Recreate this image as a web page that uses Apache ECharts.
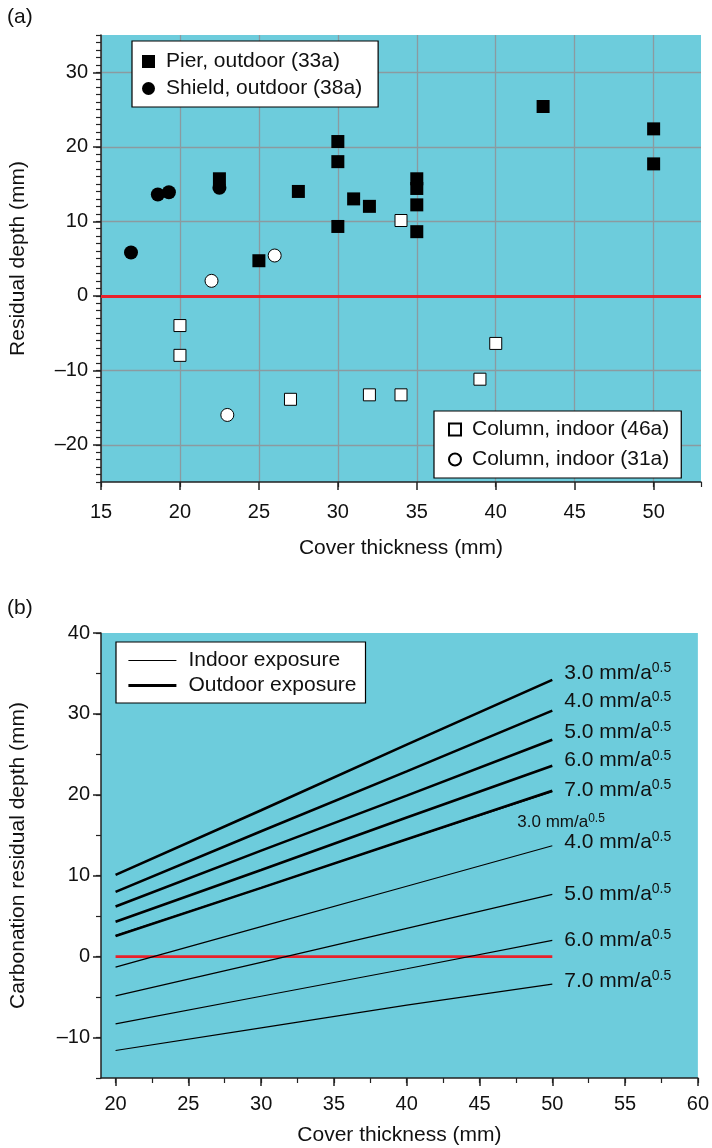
<!DOCTYPE html>
<html>
<head>
<meta charset="utf-8">
<script src="https://cdn.jsdelivr.net/npm/echarts@6/dist/echarts.min.js"></script>
<style>
  html, body { margin: 0; padding: 0; background: #fff; }
  #chart { width: 712px; height: 1148px; }
</style>
</head>
<body>
<div id="chart"></div>
<script>
// (a) 実測の残りかぶり
var pierCover = [22.5, 25, 27.5, 30, 30, 30, 31, 32, 35, 35, 35, 35, 43, 50, 50]
var pierDepth = [15.7, 4.7, 14.0, 20.7, 18.0, 9.3, 13.0, 12.0, 15.7, 14.4, 12.2, 8.6, 25.4, 22.4, 17.7]
var shieldCover = [16.9, 18.6, 19.3, 22.5]
var shieldDepth = [5.8, 13.6, 13.9, 14.5]
var col46Cover = [20, 20, 27, 32, 34, 34, 39, 40]
var col46Depth = [-4.0, -8.0, -13.9, -13.3, -13.3, 10.1, -11.2, -6.4]
var col31Cover = [22, 26, 23]
var col31Depth = [2.0, 5.4, -16.0]

// (b) 中性化残り
var coverB = [20, 30, 40, 50]
var rates = ['3.0', '4.0', '5.0', '6.0', '7.0']
var outdoorDepth = [
  [10.1, 18.1, 26.2, 34.2],
  [8.0, 15.5, 22.9, 30.4],
  [6.2, 13.1, 19.9, 26.8],
  [4.3, 10.7, 17.2, 23.6],
  [2.55, 8.5, 14.5, 20.5]
]
var indoorDepth = [
  [2.6, 8.5, 14.5, 20.4],
  [-1.3, 3.7, 8.7, 13.7],
  [-4.85, -0.7, 3.5, 7.7],
  [-8.3, -4.9, -1.5, 2.0],
  [-11.6, -8.8, -6.0, -3.4]
]

// tick labels
var xTicksA = [15, 20, 25, 30, 35, 40, 45, 50]
var yTicksA = [-20, -10, 0, 10, 20, 30]
var xTicksB = [20, 25, 30, 35, 40, 45, 50, 55, 60]
var xMinorB = [20, 22.5, 25, 27.5, 30, 32.5, 35, 37.5, 40, 42.5, 45, 47.5, 50, 52.5, 55, 57.5, 60]
var yTicksB = [-10, 0, 10, 20, 30, 40]

var FONT = 'Liberation Sans, Arial, sans-serif'
var BG = '#6dccdc'
var AX = '#222'

function zip(xs, ys) {
  return xs.map(function (x, i) { return [x, ys[i]] })
}

function dash(v) {
  return String(v).replace('-', '\u2013')
}

function tickLabel(ticks, margin) {
  return { customValues: ticks, fontSize: 20, color: '#111', fontFamily: FONT, margin: margin, formatter: dash }
}

function majorAxis(gridIndex, min, max, ticks, opts) {
  return Object.assign({
    type: 'value', gridIndex: gridIndex, min: min, max: max,
    axisLine: { show: true, onZero: false, lineStyle: { color: AX, width: 1.5 } },
    axisTick: { show: true, customValues: ticks, length: 8, lineStyle: { color: AX, width: 1.5 } },
    splitLine: { show: false },
    nameLocation: 'middle',
    nameTextStyle: { fontSize: 21, color: '#111', fontFamily: FONT }
  }, opts)
}

// 副目盛り用の軸
function minorAxis(gridIndex, pos, min, max, tickOpt) {
  return Object.assign({
    type: 'value', gridIndex: gridIndex, position: pos, offset: 0, min: min, max: max,
    axisLine: { show: false, onZero: false },
    axisTick: Object.assign({ show: true, length: 5, lineStyle: { color: AX, width: 1.2 } }, tickOpt),
    axisLabel: { show: false },
    splitLine: { show: false }
  })
}

var gridLine = { show: true, lineStyle: { color: '#8b9aa0', width: 1.3 } }

function rateLabel(rate, big) {
  return big ? '{a|' + rate + ' mm/a}{s|0.5}' : '{c|' + rate + ' mm/a}{t|0.5}'
}

var labelRich = {
  a: { fontSize: 21, color: '#111', fontFamily: FONT },
  s: { fontSize: 14, color: '#111', fontFamily: FONT, padding: [0, 0, 10, 0] },
  c: { fontSize: 17, color: '#111', fontFamily: FONT },
  t: { fontSize: 12, color: '#111', fontFamily: FONT, padding: [0, 0, 8, 0] }
}

var outdoorOffsetY = [-7, -9, -8, -5, -1]
var indoorOffsetY = [31, -4, 0, 0, -3]

var series = [
  {
    name: 'Pier, outdoor (33a)', type: 'scatter', xAxisIndex: 0, yAxisIndex: 0,
    data: zip(pierCover, pierDepth), symbol: 'rect', symbolSize: 13,
    itemStyle: { color: '#000', opacity: 1 },
    markLine: {
      silent: true, symbol: 'none', label: { show: false },
      lineStyle: { color: '#e8212b', width: 3, type: 'solid' },
      data: [{ yAxis: 0 }]
    }
  },
  {
    name: 'Shield, outdoor (38a)', type: 'scatter', xAxisIndex: 0, yAxisIndex: 0,
    data: zip(shieldCover, shieldDepth), symbol: 'circle', symbolSize: 14,
    itemStyle: { color: '#000', opacity: 1 }
  },
  {
    name: 'Column, indoor (46a)', type: 'scatter', xAxisIndex: 0, yAxisIndex: 0,
    data: zip(col46Cover, col46Depth), symbol: 'rect', symbolSize: 12,
    itemStyle: { color: '#fff', borderColor: '#000', borderWidth: 1, opacity: 1 }
  },
  {
    name: 'Column, indoor (31a)', type: 'scatter', xAxisIndex: 0, yAxisIndex: 0,
    data: zip(col31Cover, col31Depth), symbol: 'circle', symbolSize: 13,
    itemStyle: { color: '#fff', borderColor: '#000', borderWidth: 1, opacity: 1 }
  },
  {
    // 残り0の線
    type: 'line', xAxisIndex: 2, yAxisIndex: 2, data: [[20, 0], [50, 0]],
    symbol: 'none', silent: true,
    lineStyle: { color: '#e8212b', width: 2.8 }
  }
]

indoorDepth.forEach(function (ys, i) {
  series.push({
    name: 'Indoor exposure', type: 'line', xAxisIndex: 2, yAxisIndex: 2,
    data: zip(coverB, ys), symbol: 'none',
    itemStyle: { color: '#000' },
    lineStyle: { color: '#000', width: 1.2 },
    endLabel: {
      show: true, distance: 12,
      offset: i === 0 ? [-47, indoorOffsetY[i]] : [0, indoorOffsetY[i]],
      formatter: rateLabel(rates[i], i !== 0), rich: labelRich
    }
  })
})

outdoorDepth.forEach(function (ys, i) {
  series.push({
    name: 'Outdoor exposure', type: 'line', xAxisIndex: 2, yAxisIndex: 2,
    data: zip(coverB, ys), symbol: 'none',
    itemStyle: { color: '#000' },
    lineStyle: { color: '#000', width: 2.6 },
    endLabel: {
      show: true, distance: 12, offset: [0, outdoorOffsetY[i]],
      formatter: rateLabel(rates[i], true), rich: labelRich
    }
  })
})

var legendText = { fontSize: 21, color: '#111', fontFamily: FONT, padding: [0, 0, 0, 6] }

var option = {
  animation: false,
  textStyle: { fontFamily: FONT },
  title: [
    { text: '(a)', left: 7, top: 7, padding: 0, textStyle: { fontSize: 21, fontWeight: 'normal', color: '#111', fontFamily: FONT } },
    { text: '(b)', left: 7, top: 598, padding: 0, textStyle: { fontSize: 21, fontWeight: 'normal', color: '#111', fontFamily: FONT } }
  ],
  grid: [
    { left: 100, right: 11, top: 35, bottom: 666, show: true, backgroundColor: BG, borderWidth: 0 },
    { left: 101, right: 13, top: 633, bottom: 70, show: true, backgroundColor: BG, borderWidth: 0 }
  ],
  legend: [
    {
      data: ['Pier, outdoor (33a)', 'Shield, outdoor (38a)'],
      orient: 'vertical', left: 132, top: 41, itemWidth: 13, itemHeight: 13, itemGap: 6,
      backgroundColor: '#fff', borderColor: '#000', borderWidth: 1.2, borderRadius: 0,
      padding: [10, 16, 8, 10], textStyle: legendText
    },
    {
      data: ['Column, indoor (46a)', 'Column, indoor (31a)'],
      orient: 'vertical', left: 434, top: 411, itemWidth: 12, itemHeight: 12, itemGap: 9,
      backgroundColor: '#fff', borderColor: '#000', borderWidth: 1.2, borderRadius: 0,
      padding: [8, 12, 8, 14], textStyle: legendText
    },
    {
      data: [
        { name: 'Indoor exposure', lineStyle: { width: 1.2 } },
        { name: 'Outdoor exposure', lineStyle: { width: 2.8 } }
      ],
      orient: 'vertical', left: 116, top: 642, itemWidth: 48, itemHeight: 12, itemGap: 4,
      backgroundColor: '#fff', borderColor: '#000', borderWidth: 1.2, borderRadius: 0,
      padding: [8, 9, 7, 11],
      itemStyle: { opacity: 0 },
      lineStyle: { width: 'inherit' },
      textStyle: { fontSize: 21, color: '#111', fontFamily: FONT, padding: [0, 0, 0, 7] }
    }
  ],
  xAxis: [
    majorAxis(0, 15, 53, xTicksA, {
      position: 'bottom', name: 'Cover thickness (mm)', nameGap: 56, splitLine: gridLine,
      axisLabel: tickLabel(xTicksA, 20)
    }),
    minorAxis(0, 'bottom', 15, 53, { interval: 2.5 }),
    majorAxis(1, 19, 60, xTicksB, {
      position: 'bottom', name: 'Cover thickness (mm)', nameGap: 47,
      axisLabel: tickLabel(xTicksB, 16)
    }),
    minorAxis(1, 'bottom', 19, 60, { customValues: xMinorB })
  ],
  yAxis: [
    majorAxis(0, -25, 35, yTicksA, {
      position: 'left', name: 'Residual depth (mm)', nameGap: 72, splitLine: gridLine,
      axisLabel: tickLabel(yTicksA, 13)
    }),
    Object.assign(minorAxis(0, 'left', -25, 35, {}), { interval: 1 }),
    majorAxis(1, -15, 40, yTicksB, {
      position: 'left', name: 'Carbonation residual depth (mm)', nameGap: 72,
      axisLabel: tickLabel(yTicksB, 11)
    }),
    Object.assign(minorAxis(1, 'left', -15, 40, {}), { interval: 5 })
  ],
  series: series
}

var chart = echarts.init(document.getElementById('chart'))
chart.setOption(option)
</script>
</body>
</html>
